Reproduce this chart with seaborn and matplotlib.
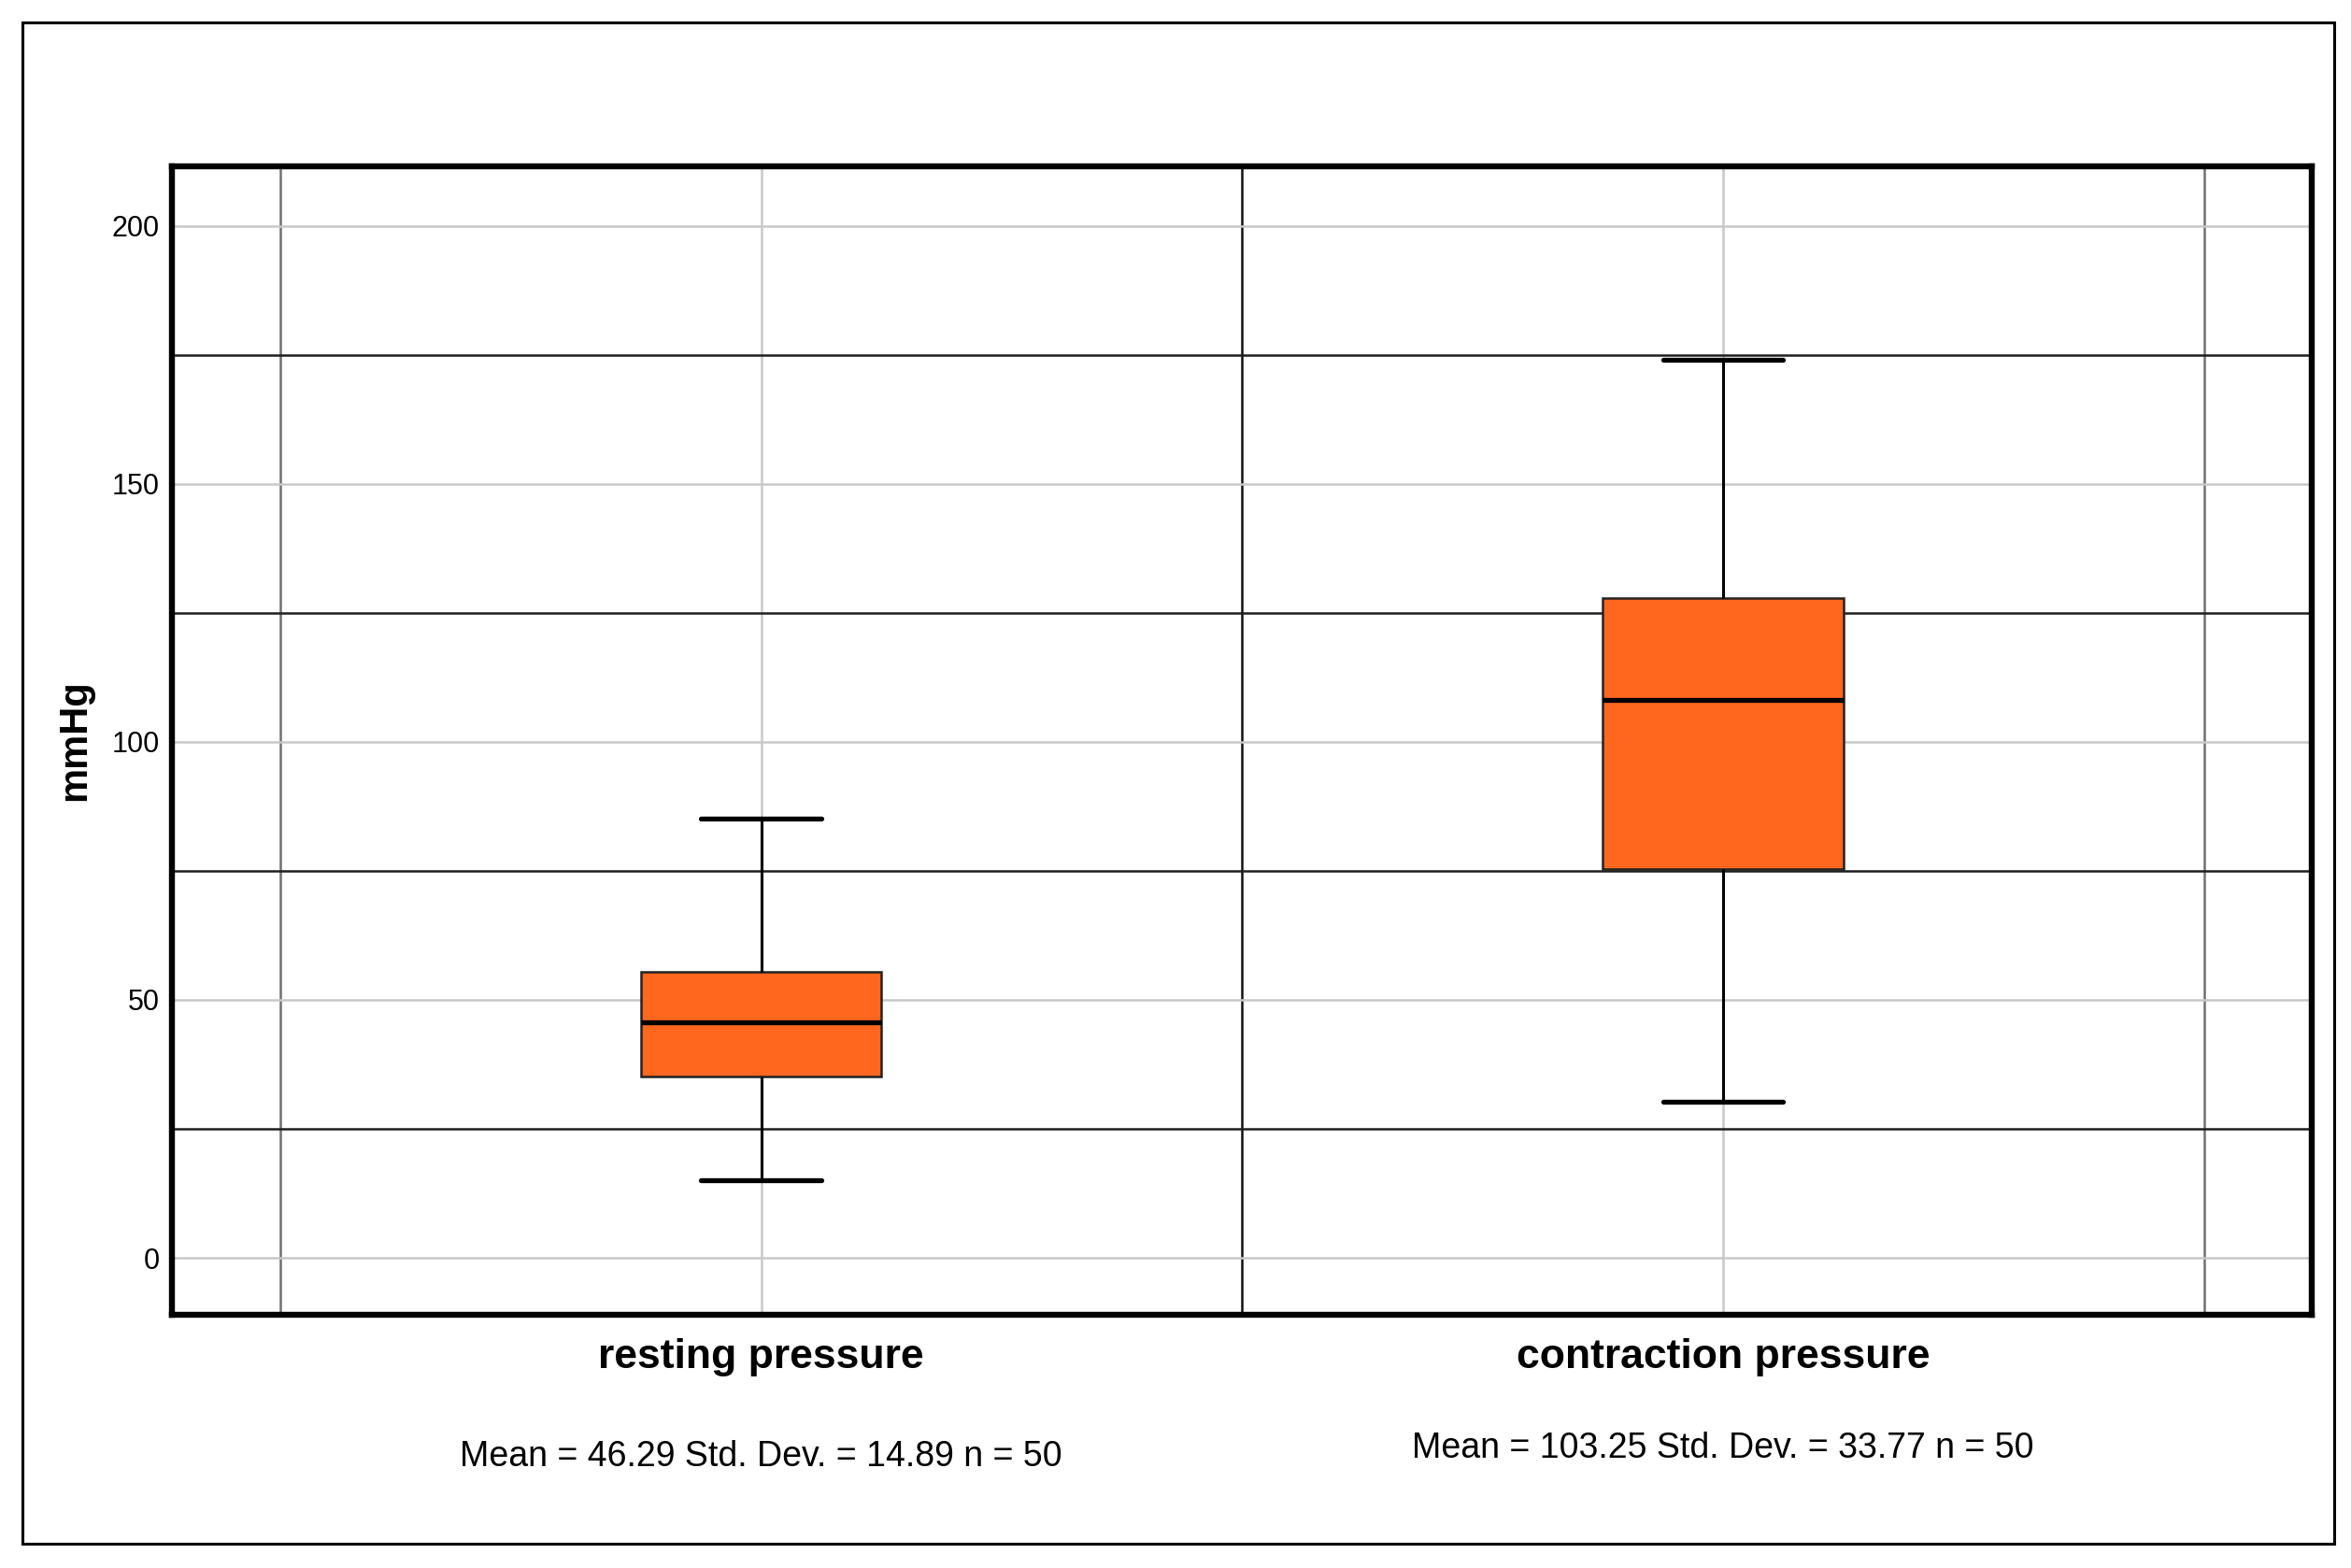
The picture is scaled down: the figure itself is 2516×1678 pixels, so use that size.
import matplotlib
matplotlib.use("Agg")
import matplotlib.pyplot as plt
import matplotlib.patches as patches
import matplotlib.transforms as mtransforms
from matplotlib.ticker import FixedLocator
import seaborn as sns
import pandas as pd

# five-number summaries (min, q1, median, q3, max)
categories = ["resting pressure", "contraction pressure"]
resting = [15.1, 35.2, 45.6, 55.5, 85.2]
contraction = [30.2, 75.3, 108.1, 127.9, 174.1]
stats_labels = ["Mean = 46.29 Std. Dev. = 14.89 n = 50",
                "Mean = 103.25 Std. Dev. = 33.77 n = 50"]
y_ticks = [0, 50, 100, 150, 200]
y_minor = [25, 75, 125, 175]

df = pd.DataFrame({
    "group": [categories[0]] * len(resting) + [categories[1]] * len(contraction),
    "mmHg": resting + contraction,
})

sns.set_style("white")
plt.rcParams["font.family"] = ["Liberation Sans", "DejaVu Sans"]
plt.rcParams["text.color"] = "black"
plt.rcParams["axes.labelcolor"] = "black"
plt.rcParams["xtick.color"] = "black"
plt.rcParams["ytick.color"] = "black"

fig = plt.figure(figsize=(12.58, 8.39), dpi=200)
ax = fig.add_axes([0.0733, 0.1616, 0.9101, 0.7323])

sns.boxplot(data=df, x="group", y="mmHg", order=categories, ax=ax,
            width=0.25, color="#FF671F", linecolor="black", saturation=1,
            whis=(0, 100), fliersize=0, linewidth=1.1,
            boxprops=dict(linewidth=0.9, edgecolor="#222222"),
            medianprops=dict(linewidth=1.9, color="black"),
            capprops=dict(linewidth=1.9, color="black"),
            whiskerprops=dict(linewidth=1.1, color="black"))

ax.set_xlim(-0.612, 1.612)
ax.set_ylim(-11, 211.5)
ax.yaxis.set_major_locator(FixedLocator(y_ticks))
ax.yaxis.set_minor_locator(FixedLocator(y_minor))
ax.xaxis.set_minor_locator(FixedLocator([-0.5, 0.5, 1.5]))
ax.set_axisbelow(True)

ax.grid(which="major", axis="both", color="#c8c8c8", linewidth=0.9)
ax.grid(which="minor", axis="both", color="#1e1e1e", linewidth=0.9)
minor_x = ax.xaxis.get_minor_ticks()
for t, c in zip(minor_x, ["#707070", "#111111", "#707070"]):
    t.gridline.set_color(c)

ax.tick_params(axis="both", which="both", length=0)
ax.tick_params(axis="y", labelsize=11, pad=5)
ax.tick_params(axis="x", labelsize=16, pad=9)
for lab in ax.get_xticklabels():
    lab.set_fontweight("bold")

ax.set_xlabel("")
ax.set_ylabel("mmHg", fontsize=15, fontweight="bold")
ax.yaxis.set_label_coords(-0.037, 0.5)

for s in ax.spines.values():
    s.set_visible(True)
    s.set_linewidth(2.3)
    s.set_color("black")

trans = mtransforms.blended_transform_factory(ax.transData, fig.transFigure)
for i, (txt, yy) in enumerate(zip(stats_labels, [0.0712, 0.0760])):
    ax.text(i, yy, txt, transform=trans, ha="center", va="center", fontsize=13.5)

fig.patches.append(patches.Rectangle((0.0096, 0.0153), 0.9834, 0.9704,
                                     transform=fig.transFigure, fill=False,
                                     edgecolor="black", linewidth=1.1))

fig.savefig("out.png", dpi=200)
